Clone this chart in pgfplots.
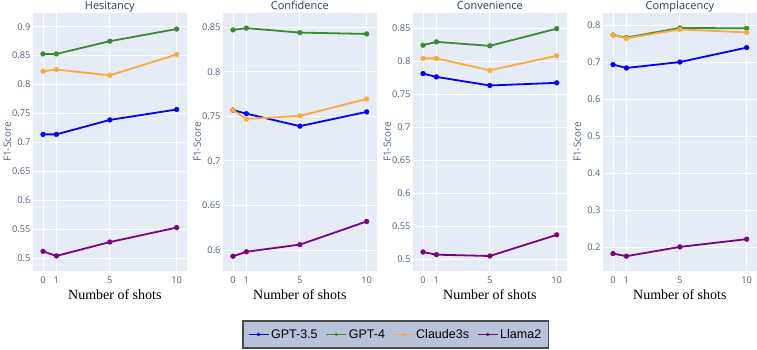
\documentclass[border=0pt]{standalone}
\usepackage{fontspec}
\setmainfont{Open Sans}
\newfontfamily\timesfont{Liberation Serif}
\newfontfamily\arialfont{Liberation Sans}
\usepackage{pgfplots}
\usepackage{pgfplotstable}
\pgfplotsset{compat=1.18}

\definecolor{plotbg}{HTML}{E5ECF6}
\definecolor{titlefont}{HTML}{2A3F5F}
\definecolor{tickfont}{HTML}{506080}
\definecolor{cgpt35}{HTML}{0000FF}
\definecolor{cgpt4}{HTML}{388E2E}
\definecolor{cclaude}{HTML}{FFA83C}
\definecolor{cllama}{HTML}{800080}
\definecolor{legfill}{HTML}{B8C3DA}
\definecolor{legdraw}{HTML}{4A4A4A}

% F1 scores per number of shots
\pgfplotstableread{
x  gpt35  gpt4   claude  llama
0  0.714  0.853  0.823   0.512
1  0.714  0.853  0.826   0.504
5  0.739  0.875  0.816   0.528
10 0.757  0.896  0.852   0.553
}\hesitancy
\pgfplotstableread{
x  gpt35  gpt4   claude  llama
0  0.757  0.847  0.757   0.593
1  0.753  0.849  0.747   0.598
5  0.739  0.844  0.7505  0.606
10 0.755  0.8425 0.7695  0.632
}\confidence
\pgfplotstableread{
x  gpt35  gpt4   claude  llama
0  0.781  0.824  0.804   0.511
1  0.776  0.829  0.804   0.507
5  0.763  0.823  0.786   0.505
10 0.767  0.849  0.808   0.537
}\convenience
\pgfplotstableread{
x  gpt35  gpt4   claude  llama
0  0.693  0.773  0.773   0.183
1  0.684  0.766  0.764   0.176
5  0.700  0.792  0.788   0.201
10 0.739  0.791  0.780   0.222
}\complacency

\pgfplotsset{
  series/.style={color=#1, line width=1.8pt, mark=*, mark size=2.4pt,
    mark options={line width=0.4pt}},
  panel/.style={
    scale only axis, width=153.7pt, height=258pt, anchor=south west,
    xmin=-0.75, xmax=10.75, xtick={0,1,5,10},
    axis background/.style={fill=plotbg},
    axis line style={draw=none},
    major tick length=0pt,
    grid=major, major grid style={white, line width=0.9pt},
    tick label style={font=\fontsize{9.3}{11}\selectfont, text=tickfont},
    /pgf/number format/assume math mode=true,
    /pgf/number format/fixed, /pgf/number format/precision=2,
    xticklabel style={yshift=-2pt},
    yticklabel style={xshift=1pt},
    every axis title/.style={font=\fontsize{11}{13}\selectfont, text=titlefont,
      at={(axis description cs:0.5,1)}, anchor=base, yshift=3.2pt},
    ylabel={F1-Score},
    every axis y label/.style={font=\fontsize{10}{12}\selectfont, text=tickfont,
      at={(axis description cs:-0.168,0.5)}, anchor=center, rotate=90},
    xlabel={Number of shots},
    every axis x label/.style={font=\timesfont\fontsize{14}{16}\selectfont, text=black,
      at={(axis description cs:0.5,0)}, anchor=base, yshift=-29pt},
  },
}

\begin{document}
\begin{tikzpicture}
\begin{axis}[panel, at={(33pt,79pt)}, title={Hesitancy},
  ymin=0.478, ymax=0.9237,
  ytick={0.5,0.55,0.6,0.65,0.7,0.75,0.8,0.85,0.9},
  every axis x label/.append style={xshift=5pt},
  legend image code/.code={\draw[line width=1.2pt, mark size=1.5pt, mark repeat=2, mark phase=2]
    plot coordinates {(0pt,0pt) (10pt,0pt) (20pt,0pt)};},
  legend style={at={(axis description cs:2.359,-0.246)}, anchor=center,
    legend columns=4, fill=legfill, draw=legdraw, line width=1.4pt,
    font=\arialfont\fontsize{12.5}{14}\selectfont, text=black,
    inner xsep=5pt, inner ysep=6.3pt,
    /tikz/every even column/.append style={column sep=6pt}},
]
\addplot[series=cgpt35] table[x=x, y=gpt35] {\hesitancy};
\addlegendentry{GPT-3.5}
\addplot[series=cgpt4] table[x=x, y=gpt4] {\hesitancy};
\addlegendentry{GPT-4}
\addplot[series=cclaude] table[x=x, y=claude] {\hesitancy};
\addlegendentry{Claude3s}
\addplot[series=cllama] table[x=x, y=llama] {\hesitancy};
\addlegendentry{Llama2}
\end{axis}

\begin{axis}[panel, at={(223pt,79pt)}, title={Confidence},
  ymin=0.5764, ymax=0.866,
  ytick={0.6,0.65,0.7,0.75,0.8,0.85},
]
\addplot[series=cgpt35] table[x=x, y=gpt35] {\confidence};
\addplot[series=cgpt4] table[x=x, y=gpt4] {\confidence};
\addplot[series=cclaude] table[x=x, y=claude] {\confidence};
\addplot[series=cllama] table[x=x, y=llama] {\confidence};
\end{axis}

\begin{axis}[panel, at={(413pt,79pt)}, title={Convenience},
  ymin=0.4823, ymax=0.8727,
  ytick={0.5,0.55,0.6,0.65,0.7,0.75,0.8,0.85},
]
\addplot[series=cgpt35] table[x=x, y=gpt35] {\convenience};
\addplot[series=cgpt4] table[x=x, y=gpt4] {\convenience};
\addplot[series=cclaude] table[x=x, y=claude] {\convenience};
\addplot[series=cllama] table[x=x, y=llama] {\convenience};
\end{axis}

\begin{axis}[panel, at={(603pt,79pt)}, title={Complacency},
  ymin=0.136, ymax=0.8324,
  ytick={0.2,0.3,0.4,0.5,0.6,0.7,0.8},
]
\addplot[series=cgpt35] table[x=x, y=gpt35] {\complacency};
\addplot[series=cgpt4] table[x=x, y=gpt4] {\complacency};
\addplot[series=cclaude] table[x=x, y=claude] {\complacency};
\addplot[series=cllama] table[x=x, y=llama] {\complacency};
\end{axis}

\pgfresetboundingbox
\path[use as bounding box] (0pt,0pt) rectangle (757pt,350pt);
\end{tikzpicture}
\end{document}
